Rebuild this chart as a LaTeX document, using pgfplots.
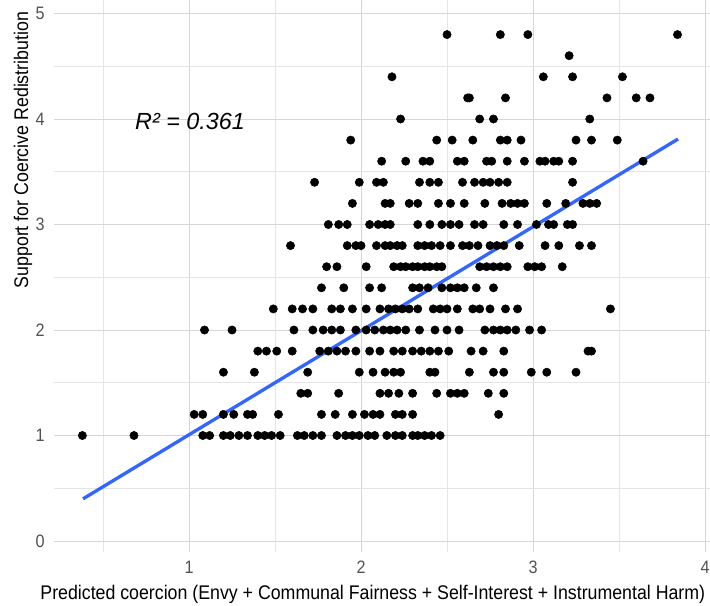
\documentclass[border=0pt]{standalone}
\usepackage{fontspec}
\setmainfont{Liberation Sans}[FakeStretch=0.9]
\newfontfamily\rfont{Liberation Sans}
\usepackage{pgfplots}
\usepackage{pgfplotstable}
\pgfplotsset{compat=1.18}
\definecolor{smoothblue}{RGB}{51,102,255}
\pgfplotstableread{
x y
0.38 1.0
0.68 1.0
1.08 1.0
1.12 1.0
1.20 1.0
1.24 1.0
1.29 1.0
1.34 1.0
1.40 1.0
1.44 1.0
1.48 1.0
1.53 1.0
1.63 1.0
1.67 1.0
1.72 1.0
1.77 1.0
1.86 1.0
1.91 1.0
1.95 1.0
1.99 1.0
2.04 1.0
2.08 1.0
2.15 1.0
2.20 1.0
2.24 1.0
2.30 1.0
2.33 1.0
2.37 1.0
2.41 1.0
2.46 1.0
1.03 1.2
1.08 1.2
1.20 1.2
1.26 1.2
1.34 1.2
1.37 1.2
1.52 1.2
1.77 1.2
1.85 1.2
1.95 1.2
2.02 1.2
2.07 1.2
2.11 1.2
2.20 1.2
2.24 1.2
2.30 1.2
2.80 1.2
1.65 1.4
1.69 1.4
1.87 1.4
2.11 1.4
2.16 1.4
2.22 1.4
2.30 1.4
2.44 1.4
2.52 1.4
2.56 1.4
2.60 1.4
2.74 1.4
2.83 1.4
1.20 1.6
1.38 1.6
1.69 1.6
1.99 1.6
2.07 1.6
2.14 1.6
2.19 1.6
2.23 1.6
2.40 1.6
2.43 1.6
2.63 1.6
2.77 1.6
2.83 1.6
2.99 1.6
3.08 1.6
3.25 1.6
1.40 1.8
1.45 1.8
1.51 1.8
1.60 1.8
1.76 1.8
1.81 1.8
1.86 1.8
1.91 1.8
1.97 1.8
2.05 1.8
2.11 1.8
2.19 1.8
2.24 1.8
2.30 1.8
2.35 1.8
2.40 1.8
2.45 1.8
2.51 1.8
2.64 1.8
2.71 1.8
2.83 1.8
3.32 1.8
3.34 1.8
1.09 2.0
1.25 2.0
1.61 2.0
1.72 2.0
1.78 2.0
1.83 2.0
1.88 2.0
1.97 2.0
2.03 2.0
2.08 2.0
2.13 2.0
2.17 2.0
2.21 2.0
2.26 2.0
2.34 2.0
2.43 2.0
2.50 2.0
2.57 2.0
2.72 2.0
2.77 2.0
2.81 2.0
2.85 2.0
2.90 2.0
2.98 2.0
3.05 2.0
1.49 2.2
1.60 2.2
1.66 2.2
1.72 2.2
1.83 2.2
1.88 2.2
1.95 2.2
2.03 2.2
2.11 2.2
2.16 2.2
2.20 2.2
2.24 2.2
2.28 2.2
2.33 2.2
2.42 2.2
2.46 2.2
2.50 2.2
2.56 2.2
2.65 2.2
2.69 2.2
2.75 2.2
2.84 2.2
2.91 2.2
3.45 2.2
1.77 2.4
1.90 2.4
2.05 2.4
2.12 2.4
2.30 2.4
2.34 2.4
2.39 2.4
2.47 2.4
2.52 2.4
2.56 2.4
2.60 2.4
2.67 2.4
2.77 2.4
1.80 2.6
1.86 2.6
2.03 2.6
2.19 2.6
2.23 2.6
2.26 2.6
2.30 2.6
2.33 2.6
2.37 2.6
2.40 2.6
2.44 2.6
2.47 2.6
2.69 2.6
2.73 2.6
2.77 2.6
2.81 2.6
2.85 2.6
2.97 2.6
3.01 2.6
3.05 2.6
3.17 2.6
1.59 2.8
1.92 2.8
1.97 2.8
2.00 2.8
2.09 2.8
2.14 2.8
2.17 2.8
2.21 2.8
2.24 2.8
2.33 2.8
2.37 2.8
2.41 2.8
2.46 2.8
2.52 2.8
2.59 2.8
2.63 2.8
2.68 2.8
2.75 2.8
2.79 2.8
2.83 2.8
2.92 2.8
3.07 2.8
3.15 2.8
3.27 2.8
3.34 2.8
1.81 3.0
1.87 3.0
1.92 3.0
2.05 3.0
2.10 3.0
2.14 3.0
2.17 3.0
2.33 3.0
2.40 3.0
2.47 3.0
2.52 3.0
2.57 3.0
2.66 3.0
2.71 3.0
2.83 3.0
2.91 3.0
3.02 3.0
3.09 3.0
3.12 3.0
3.20 3.0
3.23 3.0
1.95 3.2
2.14 3.2
2.17 3.2
2.28 3.2
2.33 3.2
2.45 3.2
2.52 3.2
2.60 3.2
2.72 3.2
2.82 3.2
2.87 3.2
2.91 3.2
2.95 3.2
3.08 3.2
3.19 3.2
3.29 3.2
3.33 3.2
3.37 3.2
1.73 3.4
1.99 3.4
2.09 3.4
2.13 3.4
2.34 3.4
2.40 3.4
2.45 3.4
2.59 3.4
2.66 3.4
2.71 3.4
2.75 3.4
2.80 3.4
2.85 3.4
3.23 3.4
2.12 3.6
2.26 3.6
2.36 3.6
2.40 3.6
2.56 3.6
2.60 3.6
2.73 3.6
2.76 3.6
2.85 3.6
2.95 3.6
3.04 3.6
3.07 3.6
3.12 3.6
3.15 3.6
3.23 3.6
3.64 3.6
1.94 3.8
2.44 3.8
2.53 3.8
2.65 3.8
2.81 3.8
2.85 3.8
2.93 3.8
3.25 3.8
3.34 3.8
3.49 3.8
2.23 4.0
2.69 4.0
2.77 4.0
3.33 4.0
2.62 4.2
2.63 4.2
2.84 4.2
3.43 4.2
3.60 4.2
3.68 4.2
2.18 4.4
3.06 4.4
3.23 4.4
3.52 4.4
3.21 4.6
2.50 4.8
2.81 4.8
2.97 4.8
3.84 4.8
}\pts
\begin{document}
\begin{tikzpicture}
\begin{axis}[
  scale only axis,
  width=492pt, height=414pt,
  xmin=0.215, xmax=4.029,
  ymin=-0.104, ymax=5.128,
  axis line style={draw=none},
  major tick length=0pt, minor tick length=0pt,
  xtick={1,2,3,4}, ytick={0,1,2,3,4,5},
  minor xtick={0.5,1.5,2.5,3.5}, minor ytick={0.5,1.5,2.5,3.5,4.5},
  grid=both,
  major grid style={draw=black!16, line width=0.7pt},
  minor grid style={draw=black!10, line width=0.5pt},
  /pgf/number format/assume math mode=true,
  tick label style={font=\fontsize{13.5}{15}\selectfont, text=black!68},
  xticklabel style={anchor=north, inner sep=0pt, yshift=-6.4pt},
  yticklabel style={anchor=east, inner sep=0pt, xshift=-6.75pt},
  xlabel={Predicted coercion (Envy + Communal Fairness + Self-Interest + Instrumental Harm)},
  ylabel={Support for Coercive Redistribution},
  label style={font=\fontsize{14.8}{16}\selectfont, text=black},
  xlabel style={at={(axis description cs:0.486,0)}, anchor=base, yshift=-36pt},
  ylabel style={at={(axis description cs:-0.0396,0.728)}, anchor=base, rotate=0},
  clip=false,
]
\addplot[only marks, mark=*, mark size=3.1pt, mark options={draw=black, fill=black}] table[x=x, y=y] {\pts};
\addplot[draw=smoothblue, line width=2.5pt, no marks] coordinates {(0.384,0.40) (3.843,3.81)};
\node[font=\rfont\itshape\fontsize{17.5}{19}\selectfont, anchor=center] at (axis cs:1.006,3.98) {R² = 0.361};
\end{axis}
\pgfresetboundingbox
\path[use as bounding box] (-40.5pt,-40.5pt) rectangle (492pt,414pt);
\end{tikzpicture}
\end{document}
